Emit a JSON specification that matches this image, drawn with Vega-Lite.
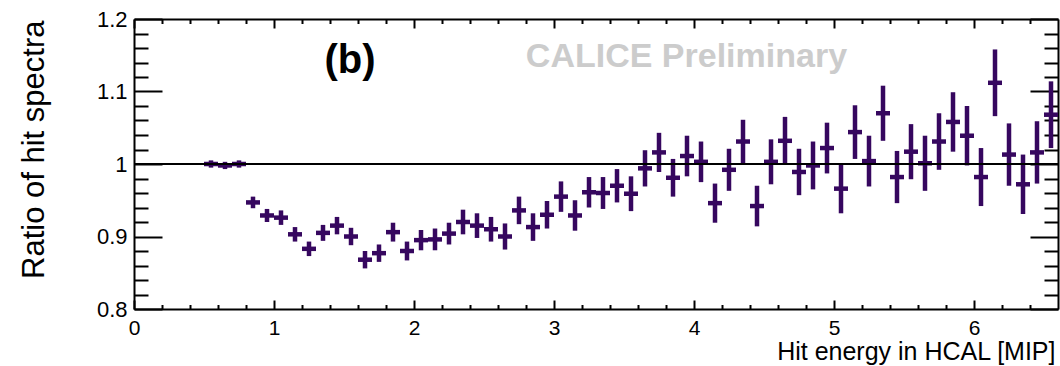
{
  "$schema": "https://vega.github.io/schema/vega-lite/v6.json",
  "width": 924,
  "height": 290,
  "autosize": {"type": "none"},
  "padding": {"left": 134, "top": 19, "right": 2, "bottom": 57},
  "background": "white",
  "config": {
    "view": {"stroke": null},
    "font": "Liberation Sans",
    "axis": {
      "grid": false,
      "domainColor": "black",
      "domainWidth": 2,
      "tickColor": "black",
      "tickWidth": 2,
      "labelColor": "black",
      "titleColor": "black",
      "labelFont": "Liberation Sans",
      "titleFont": "Liberation Sans",
      "titleFontWeight": "normal",
      "labelOverlap": false,
      "labelFlush": false,
      "labelBound": false
    }
  },
  "data": {
    "values": [
      {"e": 0.55, "r": 1.000, "err": 0.005},
      {"e": 0.65, "r": 0.998, "err": 0.005},
      {"e": 0.75, "r": 1.000, "err": 0.005},
      {"e": 0.85, "r": 0.947, "err": 0.008},
      {"e": 0.95, "r": 0.929, "err": 0.009},
      {"e": 1.05, "r": 0.926, "err": 0.010},
      {"e": 1.15, "r": 0.903, "err": 0.010},
      {"e": 1.25, "r": 0.883, "err": 0.010},
      {"e": 1.35, "r": 0.905, "err": 0.011},
      {"e": 1.45, "r": 0.915, "err": 0.012},
      {"e": 1.55, "r": 0.900, "err": 0.012},
      {"e": 1.65, "r": 0.868, "err": 0.012},
      {"e": 1.75, "r": 0.877, "err": 0.012},
      {"e": 1.85, "r": 0.906, "err": 0.013},
      {"e": 1.95, "r": 0.880, "err": 0.013},
      {"e": 2.05, "r": 0.895, "err": 0.014},
      {"e": 2.15, "r": 0.896, "err": 0.015},
      {"e": 2.25, "r": 0.904, "err": 0.015},
      {"e": 2.35, "r": 0.920, "err": 0.017},
      {"e": 2.45, "r": 0.915, "err": 0.017},
      {"e": 2.55, "r": 0.910, "err": 0.017},
      {"e": 2.65, "r": 0.900, "err": 0.018},
      {"e": 2.75, "r": 0.936, "err": 0.019},
      {"e": 2.85, "r": 0.913, "err": 0.019},
      {"e": 2.95, "r": 0.930, "err": 0.019},
      {"e": 3.05, "r": 0.955, "err": 0.021},
      {"e": 3.15, "r": 0.929, "err": 0.021},
      {"e": 3.25, "r": 0.961, "err": 0.021},
      {"e": 3.35, "r": 0.960, "err": 0.022},
      {"e": 3.45, "r": 0.970, "err": 0.023},
      {"e": 3.55, "r": 0.959, "err": 0.024},
      {"e": 3.65, "r": 0.994, "err": 0.025},
      {"e": 3.75, "r": 1.016, "err": 0.027},
      {"e": 3.85, "r": 0.981, "err": 0.026},
      {"e": 3.95, "r": 1.011, "err": 0.028},
      {"e": 4.05, "r": 1.003, "err": 0.028},
      {"e": 4.15, "r": 0.946, "err": 0.027},
      {"e": 4.25, "r": 0.992, "err": 0.029},
      {"e": 4.35, "r": 1.031, "err": 0.030},
      {"e": 4.45, "r": 0.942, "err": 0.028},
      {"e": 4.55, "r": 1.003, "err": 0.031},
      {"e": 4.65, "r": 1.032, "err": 0.033},
      {"e": 4.75, "r": 0.989, "err": 0.032},
      {"e": 4.85, "r": 0.998, "err": 0.033},
      {"e": 4.95, "r": 1.022, "err": 0.035},
      {"e": 5.05, "r": 0.966, "err": 0.034},
      {"e": 5.15, "r": 1.044, "err": 0.037},
      {"e": 5.25, "r": 1.004, "err": 0.035},
      {"e": 5.35, "r": 1.070, "err": 0.038},
      {"e": 5.45, "r": 0.982, "err": 0.036},
      {"e": 5.55, "r": 1.017, "err": 0.038},
      {"e": 5.65, "r": 1.001, "err": 0.038},
      {"e": 5.75, "r": 1.031, "err": 0.039},
      {"e": 5.85, "r": 1.058, "err": 0.041},
      {"e": 5.95, "r": 1.039, "err": 0.041},
      {"e": 6.05, "r": 0.982, "err": 0.040},
      {"e": 6.15, "r": 1.112, "err": 0.046},
      {"e": 6.25, "r": 1.013, "err": 0.043},
      {"e": 6.35, "r": 0.972, "err": 0.041},
      {"e": 6.45, "r": 1.016, "err": 0.043},
      {"e": 6.55, "r": 1.068, "err": 0.046}
    ]
  },
  "layer": [
    {
      "mark": {"type": "errorbar", "thickness": 4.5, "color": "#36075f"},
      "encoding": {
        "x": {
          "field": "e",
          "type": "quantitative",
          "scale": {"domain": [0, 6.6], "nice": false, "zero": false},
          "axis": {
            "orient": "bottom",
            "values": [0, 0.2, 0.4, 0.6, 0.8, 1, 1.2, 1.4, 1.6, 1.8, 2, 2.2, 2.4, 2.6, 2.8, 3, 3.2, 3.4, 3.6, 3.8, 4, 4.2, 4.4, 4.6, 4.8, 5, 5.2, 5.4, 5.6, 5.8, 6, 6.2, 6.4],
            "tickSize": {"condition": {"test": "abs(datum.value - round(datum.value)) < 1e-6", "value": -9}, "value": -4.5},
            "labelExpr": "abs(datum.value - round(datum.value)) < 1e-6 ? format(datum.value, 'd') : ''",
            "labelFontSize": 21,
            "labelBaseline": "top",
            "labelPadding": 17,
            "title": "Hit energy in HCAL [MIP]",
            "titleFontSize": 25,
            "titleAlign": "right",
            "titleBaseline": "alphabetic",
            "titleX": 921,
            "titleY": 50
          }
        },
        "y": {
          "field": "r",
          "type": "quantitative",
          "scale": {"domain": [0.8, 1.2], "nice": false, "zero": false},
          "axis": {
            "orient": "left",
            "values": [0.8, 0.82, 0.84, 0.86, 0.88, 0.9, 0.92, 0.94, 0.96, 0.98, 1, 1.02, 1.04, 1.06, 1.08, 1.1, 1.12, 1.14, 1.16, 1.18, 1.2],
            "tickSize": {"condition": {"test": "abs(datum.value * 10 - round(datum.value * 10)) < 1e-6", "value": -28}, "value": -14},
            "format": ".1~f",
            "labelExpr": "abs(datum.value * 10 - round(datum.value * 10)) < 1e-6 ? datum.label : ''",
            "labelFontSize": 22,
            "labelPadding": 35,
            "title": "Ratio of hit spectra",
            "titleFontSize": 31,
            "titleAngle": -90,
            "titleAlign": "right",
            "titleBaseline": "alphabetic",
            "titleX": -91,
            "titleY": 1
          }
        },
        "yError": {"field": "err"}
      }
    },
    {
      "mark": {"type": "tick", "orient": "horizontal", "size": 14, "thickness": 4.5, "color": "#36075f", "opacity": 1},
      "encoding": {
        "x": {"field": "e", "type": "quantitative", "axis": null},
        "y": {"field": "r", "type": "quantitative", "axis": null}
      }
    },
    {
      "data": {"values": [{}]},
      "mark": {"type": "rule", "color": "black", "strokeWidth": 2},
      "encoding": {
        "x": {
          "datum": 0,
          "type": "quantitative",
          "axis": {
            "orient": "top",
            "title": null,
            "labels": false,
            "values": [0, 0.2, 0.4, 0.6, 0.8, 1, 1.2, 1.4, 1.6, 1.8, 2, 2.2, 2.4, 2.6, 2.8, 3, 3.2, 3.4, 3.6, 3.8, 4, 4.2, 4.4, 4.6, 4.8, 5, 5.2, 5.4, 5.6, 5.8, 6, 6.2, 6.4],
            "tickSize": {"condition": {"test": "abs(datum.value - round(datum.value)) < 1e-6", "value": -9}, "value": -4.5}
          }
        },
        "x2": {"datum": 6.6},
        "y": {
          "datum": 1,
          "type": "quantitative",
          "axis": {
            "orient": "right",
            "title": null,
            "labels": false,
            "values": [0.8, 0.82, 0.84, 0.86, 0.88, 0.9, 0.92, 0.94, 0.96, 0.98, 1, 1.02, 1.04, 1.06, 1.08, 1.1, 1.12, 1.14, 1.16, 1.18, 1.2],
            "tickSize": {"condition": {"test": "abs(datum.value * 10 - round(datum.value * 10)) < 1e-6", "value": -28}, "value": -14}
          }
        }
      }
    },
    {
      "data": {"values": [{}]},
      "mark": {"type": "text", "text": "(b)", "font": "Liberation Sans", "fontWeight": "bold", "fontSize": 40, "align": "center", "baseline": "alphabetic", "color": "black"},
      "encoding": {
        "x": {"datum": 1.543, "type": "quantitative", "axis": null},
        "y": {"datum": 1.125, "type": "quantitative", "axis": null}
      }
    },
    {
      "data": {"values": [{}]},
      "mark": {"type": "text", "text": "CALICE Preliminary", "font": "Liberation Sans", "fontWeight": "bold", "fontSize": 34, "align": "center", "baseline": "alphabetic", "color": "#cccccc"},
      "encoding": {
        "x": {"datum": 3.946, "type": "quantitative", "axis": null},
        "y": {"datum": 1.134, "type": "quantitative", "axis": null}
      }
    }
  ],
  "resolve": {"axis": {"x": "independent", "y": "independent"}}
}
